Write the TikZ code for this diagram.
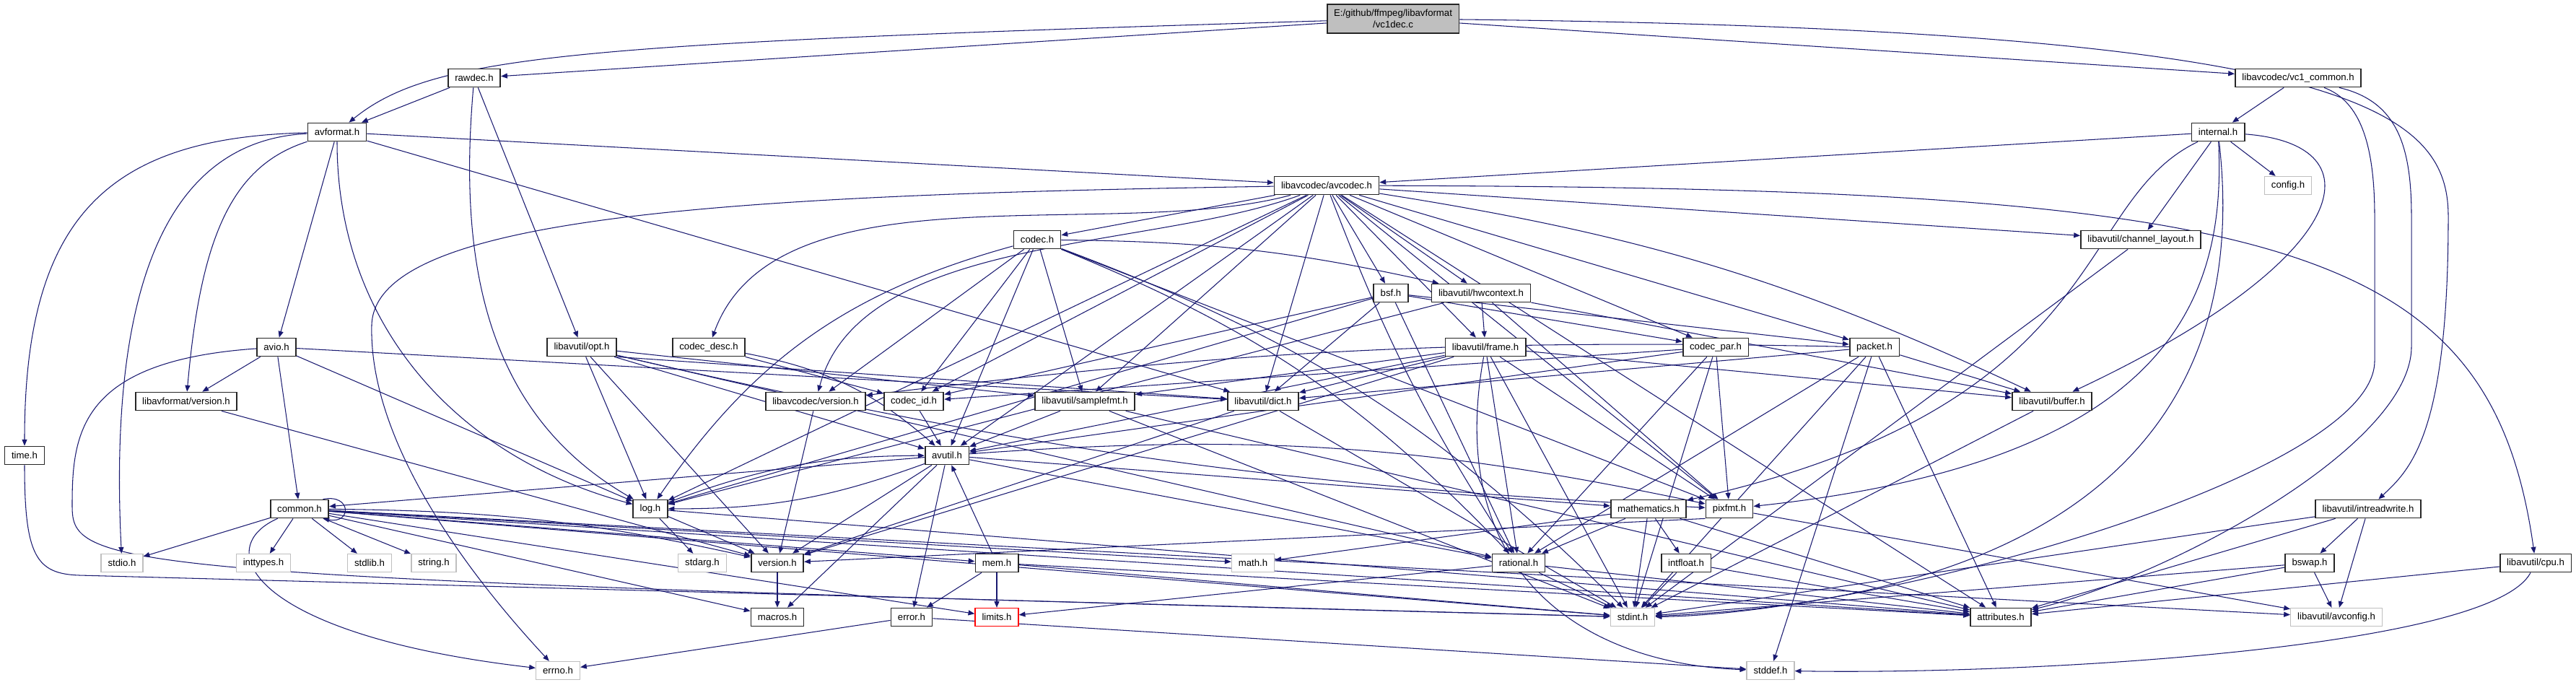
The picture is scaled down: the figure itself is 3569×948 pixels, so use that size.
\documentclass[tikz,border=0pt]{standalone}
\usepackage{fontspec}
\setmainfont{Liberation Sans}
\usetikzlibrary{arrows.meta,backgrounds}
\definecolor{edgeblue}{HTML}{191970}
\definecolor{sysgrey}{HTML}{BFBFBF}
\definecolor{rootgrey}{HTML}{BFBFBF}

\begin{document}
\begin{tikzpicture}[x=0.02cm,y=0.02cm,
  file/.style={draw=black!85,line width=1pt,fill=white,font=\fontsize{7.5}{9}\selectfont,
    inner xsep=5.4pt,inner ysep=0pt,minimum height=0.5cm},
  sysfile/.style={file,draw=sysgrey,line width=0.8pt},
  rootfile/.style={file,fill=rootgrey,align=center,minimum height=0.8cm},
  missing/.style={file,draw=red,line width=0.8pt},
  dep/.style={draw=edgeblue,line width=0.6pt,-{Triangle[length=5pt,width=4pt]}}]
  \useasboundingbox (0,0) rectangle (3569,-948);

  % the file itself
  \node[rootfile] (root) at (1930,-26) {E:/github/ffmpeg/libavformat\\/vc1dec.c};

  % libavformat
  \node[file] (rawdec) at (657,-108) {rawdec.h};
  \node[file] (avformat) at (467,-183) {avformat.h};
  \node[file] (avio) at (383,-481) {avio.h};
  \node[file] (lfversion) at (258,-556) {libavformat/version.h};
  \node[file] (time) at (34,-631) {time.h};

  % libavcodec
  \node[file] (vc1common) at (3184,-108) {libavcodec/vc1\_common.h};
  \node[file] (internal) at (3073,-183) {internal.h};
  \node[sysfile] (config) at (3170,-257) {config.h};
  \node[file] (avcodec) at (1838,-257) {libavcodec/avcodec.h};
  \node[file] (codec) at (1437,-332) {codec.h};
  \node[file] (codecdesc) at (982,-481) {codec\_desc.h};
  \node[file] (lcversion) at (1130,-556) {libavcodec/version.h};
  \node[file] (codecid) at (1266,-556) {codec\_id.h};
  \node[file] (bsf) at (1927,-406) {bsf.h};
  \node[file] (codecpar) at (2377,-481) {codec\_par.h};
  \node[file] (packet) at (2597,-481) {packet.h};

  % libavutil
  \node[file] (opt) at (806,-481) {libavutil/opt.h};
  \node[file] (samplefmt) at (1503,-556) {libavutil/samplefmt.h};
  \node[file] (dict) at (1750,-556) {libavutil/dict.h};
  \node[file] (avutil) at (1312,-631) {avutil.h};
  \node[file] (hwcontext) at (2052,-406) {libavutil/hwcontext.h};
  \node[file] (frame) at (2058,-481) {libavutil/frame.h};
  \node[file] (chlayout) at (2966,-332) {libavutil/channel\_layout.h};
  \node[file] (buffer) at (2843,-556) {libavutil/buffer.h};
  \node[file] (common) at (415,-705) {common.h};
  \node[file] (log) at (901,-705) {log.h};
  \node[file] (version) at (1077,-780) {version.h};
  \node[file] (mem) at (1381,-780) {mem.h};
  \node[file] (macros) at (1077,-855) {macros.h};
  \node[file] (error) at (1263,-855) {error.h};
  \node[missing] (limits) at (1381,-855) {limits.h};
  \node[file] (mathematics) at (2284,-705) {mathematics.h};
  \node[file] (pixfmt) at (2396,-705) {pixfmt.h};
  \node[file] (rational) at (2104,-780) {rational.h};
  \node[file] (intfloat) at (2336,-780) {intfloat.h};
  \node[file] (intrw) at (3281,-705) {libavutil/intreadwrite.h};
  \node[file] (bswap) at (3200,-780) {bswap.h};
  \node[file] (cpu) at (3513,-780) {libavutil/cpu.h};
  \node[file] (attributes) at (2772,-855) {attributes.h};
  \node[sysfile] (avconfig) at (3237,-855) {libavutil/avconfig.h};

  % system headers
  \node[sysfile] (stdio) at (169,-780) {stdio.h};
  \node[sysfile] (inttypes) at (365,-780) {inttypes.h};
  \node[sysfile] (stdlib) at (512,-780) {stdlib.h};
  \node[sysfile] (string) at (601,-780) {string.h};
  \node[sysfile] (errno) at (773,-929) {errno.h};
  \node[sysfile] (stdarg) at (973,-780) {stdarg.h};
  \node[sysfile] (math) at (1736,-780) {math.h};
  \node[sysfile] (stdint) at (2262,-855) {stdint.h};
  \node[sysfile] (stddef) at (2453,-929) {stddef.h};

  \begin{pgfonlayer}{background}
  \begin{scope}[every edge/.style={dep}]
    % vc1dec.c
    \draw[dep] (root) .. controls (800,-60) and (600,-75) .. (avformat);
    \path (root) edge (rawdec) edge (vc1common);
    \draw[dep] (root) .. controls (3250,-40) and (3392,-150) .. (3392,-300)
      .. controls (3392,-600) and (3340,-650) .. (intrw);

    % libavformat
    \path (rawdec) edge (avformat) edge (opt) edge[out=-95,in=150] (log);
    \draw[dep] (avformat) .. controls (150,-190) and (34,-300) .. (time);
    \draw[dep] (avformat) .. controls (230,-195) and (150,-400) .. (stdio);
    \draw[dep] (avformat) .. controls (320,-230) and (278,-330) .. (lfversion);
    \path (avformat) edge (avio) edge[out=-90,in=165] (log) edge (avcodec) edge (dict);
    \path (avio) edge (lfversion) edge (common) edge (log) edge (dict);
    \draw[dep] (avio) .. controls (110,-500) and (100,-600) .. (100,-700)
      .. controls (100,-790) and (140,-800) .. (stdint);
    \draw[dep] (time) .. controls (34,-770) and (50,-795) .. (110,-797) -- (stdint);
    \path (lfversion) edge (version);

    % libavcodec
    \path (vc1common) edge (internal);
    \draw[dep] (vc1common) .. controls (3270,-140) and (3290,-200) .. (3290,-300)
      -- (3290,-500) .. controls (3290,-660) and (2600,-850) .. (stdint);
    \draw[dep] (vc1common) .. controls (3320,-140) and (3341,-200) .. (3341,-300)
      -- (3341,-480) .. controls (3341,-620) and (3000,-800) .. (attributes);
    \path (internal) edge (avcodec) edge (config) edge (chlayout);
    \draw[dep] (internal) .. controls (3300,-200) and (3260,-360) .. (buffer);
    \draw[dep] (internal) .. controls (2870,-280) and (2930,-560) .. (mathematics);
    \draw[dep] (internal) .. controls (3085,-420) and (3000,-640) .. (pixfmt);
    \draw[dep] (internal) .. controls (3100,-420) and (3060,-820) .. (stdint);
    \path (avcodec) edge (codec) edge[out=195,in=70,looseness=0.8] (codecdesc)
      edge[out=200,in=75,looseness=0.8] (lcversion) edge (codecid) edge (samplefmt)
      edge (dict) edge (avutil) edge (log) edge (bsf) edge (hwcontext) edge (frame)
      edge (codecpar) edge (packet) edge[bend left=8] (buffer) edge (chlayout)
      edge[bend right=6] (rational) edge (pixfmt) edge (attributes);
    \draw[dep] (avcodec) .. controls (1000,-270) and (520,-300) .. (515,-450)
      .. controls (510,-640) and (700,-850) .. (errno);
    \draw[dep] (avcodec) .. controls (3150,-260) and (3450,-330) .. (cpu);
    \path (codec) edge[bend left=12] (stdint) edge (avutil) edge[bend left=6] (hwcontext)
      edge[bend right=20] (log) edge (pixfmt) edge[bend left=12] (rational)
      edge (samplefmt) edge (codecid) edge (lcversion);
    \path (codecdesc) edge (codecid) edge[bend left=15] (avutil);
    \path (lcversion) edge (version);
    \path (codecid) edge (avutil);
    \path (bsf) edge (dict) edge (log) edge (rational) edge (codecid) edge (codecpar)
      edge (packet);
    \path (codecpar) edge (stdint) edge (avutil) edge (rational) edge (pixfmt)
      edge (codecid);
    \path (packet) edge (stddef) edge (stdint) edge (attributes) edge (buffer)
      edge (dict) edge (rational) edge[bend right=4] (lcversion);

    % libavutil
    \path (opt) edge (rational) edge (avutil) edge (log) edge[bend right=5] (pixfmt)
      edge (samplefmt) edge (version);
    \path (opt.south east) edge (dict);
    \path (samplefmt) edge (stdint) edge (avutil) edge (attributes);
    \path (dict) edge (stdint) edge (version);
    \path (hwcontext) edge (buffer) edge (frame) edge (log) edge (pixfmt);
    \draw[dep] (frame) .. controls (2000,-800) and (2200,-920) .. (stddef);
    \path (frame) edge (stdint) edge (avutil) edge (buffer) edge (dict) edge (rational)
      edge (samplefmt) edge (pixfmt) edge (version);
    \path (chlayout) edge (stdint);
    \path (buffer) edge (stdint);
    \path (cpu) edge (attributes);
    \draw[dep] (cpu) .. controls (3450,-900) and (2800,-935) .. (stddef);
    \path (avutil) edge (common) edge (error) edge (rational) edge (version)
      edge (macros) edge (mathematics) edge[bend left=10] (log)
      edge[bend left=8] (pixfmt);
    \draw[dep] (common) .. controls (290,-760) and (350,-880) .. (errno);
    \path (common) edge (inttypes) edge (limits) edge (math) edge (stdint)
      edge (stdio) edge (stdlib) edge (string) edge (attributes)
      edge (macros) edge[bend left=6] (version) edge (avconfig) edge (mem);
    \draw[dep] ([xshift=-5pt]common.north east) .. controls +(40,8) and +(40,-8)
      .. ([xshift=-5pt]common.south east);
    \path (log) edge (stdarg) edge[bend left=10] (avutil) edge (attributes)
      edge (version);
    \path (version) edge (macros);
    \path (mem) edge (limits) edge (stdint) edge (attributes) edge (error) edge (avutil);
    \path (error) edge (errno) edge (stddef);
    \path (mathematics) edge (stdint) edge (math) edge (attributes) edge (rational)
      edge (intfloat);
    \path (pixfmt) edge (avconfig);
    \path (pixfmt.south west) edge (version);
    \path (rational) edge (stdint) edge (limits) edge (attributes);
    \path (intfloat) edge (stdint) edge (attributes);
    \path (intrw) edge (stdint) edge (avconfig) edge (attributes) edge (bswap);
    \path (bswap) edge (stdint) edge (avconfig) edge (attributes);
  \end{scope}
  \end{pgfonlayer}
\end{tikzpicture}
\end{document}
